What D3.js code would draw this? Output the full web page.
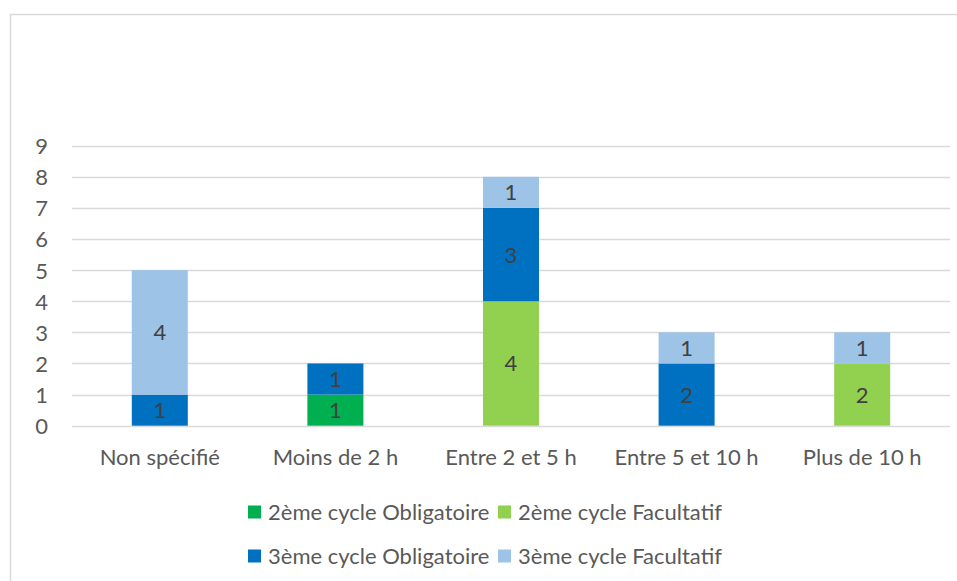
<!DOCTYPE html>
<html>
<head>
<meta charset="utf-8">
<script src="https://cdn.jsdelivr.net/npm/d3@7"></script>
<style>
  html, body { margin: 0; padding: 0; background: #fff; }
  svg { display: block; font-family: Lato, "Open Sans", sans-serif; }
</style>
</head>
<body>
<svg id="chart" width="957" height="581"></svg>
<script>
const categories = ["Non spécifié", "Moins de 2 h", "Entre 2 et 5 h", "Entre 5 et 10 h", "Plus de 10 h"];
const seriesNames = ["2ème cycle Obligatoire", "2ème cycle Facultatif", "3ème cycle Obligatoire", "3ème cycle Facultatif"];
const s2Obligatoire = [0, 1, 0, 0, 0];
const s2Facultatif  = [0, 0, 4, 0, 2];
const s3Obligatoire = [1, 1, 3, 2, 0];
const s3Facultatif  = [4, 0, 1, 1, 1];
const yTicks = [0, 1, 2, 3, 4, 5, 6, 7, 8, 9];
const colors = ["#00B050", "#92D050", "#0070C0", "#9DC3E6"];

const seriesValues = [s2Obligatoire, s2Facultatif, s3Obligatoire, s3Facultatif];
const table = categories.map((c, i) => {
  const row = { cat: c };
  seriesNames.forEach((s, j) => row[s] = seriesValues[j][i]);
  return row;
});

const FS = "22px";
const svg = d3.select("#chart");
const plotL = 72, plotR = 950, plotT = 145.7, plotB = 425.7;

// chart border
svg.append("rect")
  .attr("x", 10.5).attr("y", 14.5)
  .attr("width", 960).attr("height", 600)
  .attr("fill", "none").attr("stroke", "#d9d9d9").attr("stroke-width", 1.5);

const x = d3.scaleBand().domain(categories).range([plotL, plotR]).paddingInner(0).paddingOuter(0);
const y = d3.scaleLinear().domain([0, 9]).range([plotB, plotT]);
const barW = 56;

// gridlines
svg.append("g").selectAll("line").data(yTicks).join("line")
  .attr("x1", plotL).attr("x2", plotR)
  .attr("y1", d => Math.round(y(d)) + 0.5).attr("y2", d => Math.round(y(d)) + 0.5)
  .attr("stroke", "#d9d9d9").attr("stroke-width", 1.3);

// y axis labels
const yAxis = d3.axisLeft(y).tickValues(yTicks).tickSize(0).tickPadding(0);
const gy = svg.append("g").attr("transform", "translate(48,0)").call(yAxis);
gy.select(".domain").remove();
gy.selectAll("text").attr("fill", "#595959").style("font-size", FS).style("font-family", "Lato, sans-serif").attr("dy", "0.36em");

// x axis labels
const xAxis = d3.axisBottom(x).tickSize(0).tickPadding(0);
const gx = svg.append("g").attr("transform", `translate(0,${plotB})`).call(xAxis);
gx.select(".domain").remove();
gx.selectAll("text").attr("fill", "#595959").style("font-size", FS).style("font-family", "Lato, sans-serif")
  .attr("dy", null).attr("y", 39.5);

// stacked bars
const stack = d3.stack().keys(seriesNames)(table);
const layers = svg.append("g").selectAll("g").data(stack).join("g")
  .attr("fill", (d, i) => colors[i]);
layers.selectAll("rect").data(d => d.filter(p => p[1] - p[0] > 0)).join("rect")
  .attr("x", d => x(d.data.cat) + x.bandwidth() / 2 - barW / 2)
  .attr("width", barW)
  .attr("y", d => y(d[1]))
  .attr("height", d => y(d[0]) - y(d[1]));

// labels
const lbl = svg.append("g");
stack.forEach(layer => {
  layer.filter(p => p[1] - p[0] > 0).forEach(p => {
    lbl.append("text")
      .attr("x", x(p.data.cat) + x.bandwidth() / 2)
      .attr("y", (y(p[0]) + y(p[1])) / 2)
      .attr("dy", "0.36em")
      .attr("text-anchor", "middle")
      .attr("fill", "#404040")
      .style("font-size", FS)
      .text(p[1] - p[0]);
  });
});

// legend
const legendPos = [[248, 512], [498, 512], [248, 556], [498, 556]];
const lg = svg.append("g");
seriesNames.forEach((s, i) => {
  const [lx, ly] = legendPos[i];
  lg.append("rect").attr("x", lx).attr("y", ly - 6.5).attr("width", 13).attr("height", 13).attr("fill", colors[i]);
  lg.append("text").attr("x", lx + 20).attr("y", ly).attr("dy", "0.36em")
    .attr("fill", "#595959").style("font-size", FS).text(s);
});
</script>
</body>
</html>
